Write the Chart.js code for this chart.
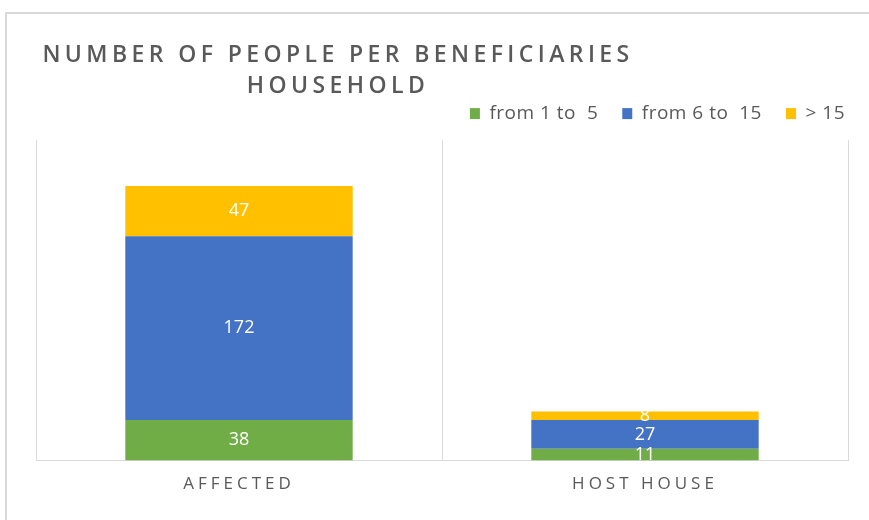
<!DOCTYPE html>
<html><head><meta charset="utf-8">
<script src="https://cdn.jsdelivr.net/npm/chart.js@4"></script>
<style>html,body{margin:0;padding:0;background:#fff}#wrap{position:relative;width:869px;height:520px}</style>
</head><body><div id="wrap"><canvas id="c" width="869" height="520"></canvas></div>
<script>
const categories = ['AFFECTED', 'HOST HOUSE'];
const seriesNames = ['from 1 to  5', 'from 6 to  15', '> 15'];
const from1to5 = [38, 11];
const from6to15 = [172, 27];
const over15 = [47, 8];
const seriesColors = ['#70AD47', '#4472C4', '#FFC000'];
const titleLines = ['NUMBER OF PEOPLE PER BENEFICIARIES', 'HOUSEHOLD'];
const yMax = 300;

const FONT = '"Open Sans", "Noto Sans", sans-serif';
const GRAY = '#595959';

const framePlugin = {
  id: 'frame',
  beforeDraw(chart) {
    const ctx = chart.ctx;
    ctx.save();
    ctx.strokeStyle = '#d9d9d9';
    ctx.lineWidth = 2;
    ctx.strokeRect(6, 13, 1000, 1000);
    ctx.restore();
  }
};

function withSpacing(obj, name, spacing) {
  const orig = obj[name].bind(obj);
  obj[name] = function (...args) {
    this.ctx.save();
    this.ctx.letterSpacing = spacing;
    const r = orig(...args);
    this.ctx.restore();
    return r;
  };
}

const spacingPlugin = {
  id: 'spacing',
  afterInit(chart) {
    const lg = chart.legend;
    if (lg && !lg._custom) {
      lg._custom = true;
      const origFit = lg.fit.bind(lg);
      lg.fit = function () {
        this.ctx.save();
        this.ctx.letterSpacing = '0.5px';
        origFit();
        this.ctx.restore();
        this.height = 60;
      };
      withSpacing(lg, 'draw', '0.5px');
    }
  },
  beforeDraw(chart) {
    const tb = chart.titleBlock;
    if (tb && !tb._custom) {
      tb._custom = true;
      tb.draw = function () {
        const o = this.options;
        const ctx = this.ctx;
        const size = o.font.size, lh = size * o.font.lineHeight;
        const padTop = o.padding.top;
        ctx.save();
        ctx.font = o.font.weight + ' ' + size + 'px ' + o.font.family;
        ctx.fillStyle = o.color;
        ctx.letterSpacing = '4.4px';
        ctx.textAlign = 'center';
        ctx.textBaseline = 'middle';
        const lines = o.text;
        for (let i = 0; i < lines.length; i++) {
          ctx.fillText(lines[i], 338, this.top + padTop + lh * (i + 0.5));
        }
        ctx.restore();
      };
    }
    const xs = chart.scales.x;
    if (xs && !xs._custom) {
      xs._custom = true;
      withSpacing(xs, 'drawLabels', '4px');
    }
  }
};

const valueLabels = {
  id: 'valueLabels',
  afterDatasetsDraw(chart) {
    const ctx = chart.ctx, a = chart.chartArea;
    ctx.save();
    ctx.beginPath();
    ctx.rect(a.left, a.top, a.right - a.left, a.bottom - a.top);
    ctx.clip();
    ctx.font = '18px ' + FONT;
    ctx.fillStyle = '#ffffff';
    ctx.textAlign = 'center';
    ctx.textBaseline = 'middle';
    chart.data.datasets.forEach((ds, i) => {
      const meta = chart.getDatasetMeta(i);
      meta.data.forEach((bar, j) => {
        ctx.fillText(String(ds.data[j]), bar.x, (bar.y + bar.base) / 2);
      });
    });
    ctx.restore();
  }
};

new Chart(document.getElementById('c'), {
  type: 'bar',
  data: {
    labels: categories,
    datasets: [
      { label: seriesNames[0], data: from1to5, backgroundColor: seriesColors[0] },
      { label: seriesNames[1], data: from6to15, backgroundColor: seriesColors[1] },
      { label: seriesNames[2], data: over15, backgroundColor: seriesColors[2] }
    ]
  },
  options: {
    responsive: false,
    animation: false,
    devicePixelRatio: 1,
    layout: { padding: { left: 36, right: 0, top: 0, bottom: 13 } },
    datasets: { bar: { categoryPercentage: 0.56, barPercentage: 1 } },
    scales: {
      x: {
        stacked: true,
        grid: { display: true, color: '#d9d9d9', drawTicks: false, offset: true },
        border: { display: true, color: '#d9d9d9' },
        ticks: { color: GRAY, font: { family: FONT, size: 17 }, padding: 13 }
      },
      y: {
        stacked: true,
        position: 'right',
        min: 0,
        max: yMax,
        grid: { display: false },
        border: { display: false },
        ticks: { display: false },
        afterFit(s) { s.width = 21; }
      }
    },
    plugins: {
      title: {
        display: true,
        text: titleLines,
        color: GRAY,
        font: { family: FONT, size: 23, weight: '600', lineHeight: 1.35 },
        padding: { top: 39.5, bottom: -21.5 }
      },
      legend: {
        display: true,
        position: 'top',
        align: 'end',
        labels: { color: GRAY, font: { family: FONT, size: 19 }, boxWidth: 10, boxHeight: 11, padding: 24 }
      },
      tooltip: { enabled: false }
    }
  },
  plugins: [framePlugin, spacingPlugin, valueLabels]
});
</script></body></html>
